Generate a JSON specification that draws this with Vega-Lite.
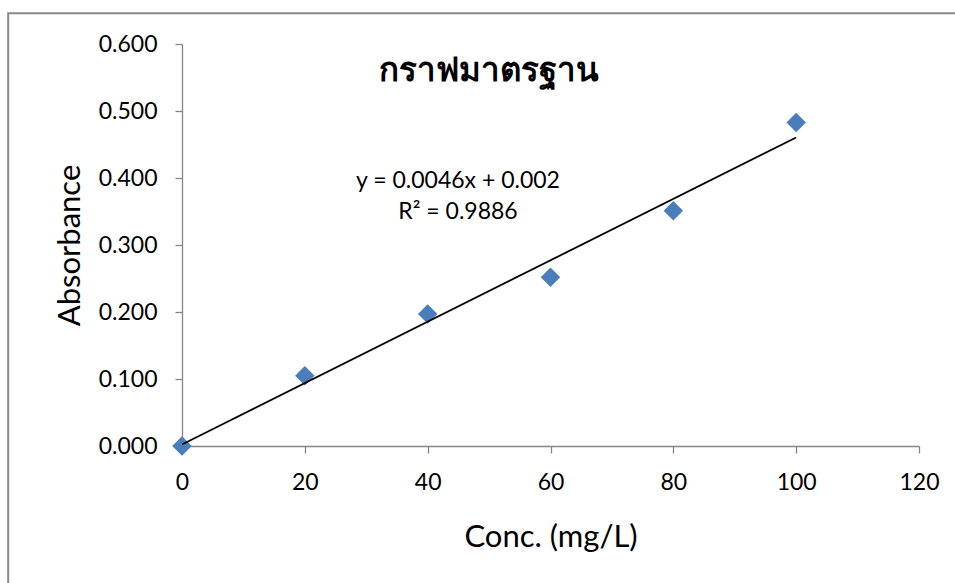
{
  "$schema": "https://vega.github.io/schema/vega-lite/v6.json",
  "width": 737,
  "height": 402,
  "autosize": {"type": "none"},
  "padding": {"left": 182, "top": 44, "right": 36, "bottom": 137},
  "background": "white",
  "title": {
    "text": "กราฟมาตรฐาน",
    "font": "Noto Sans",
    "fontSize": 33,
    "fontWeight": "bold",
    "color": "black",
    "anchor": "middle",
    "frame": "group",
    "baseline": "alphabetic",
    "offset": 0,
    "dx": -62,
    "dy": 102
  },
  "config": {
    "view": {"stroke": null},
    "font": "Lato",
    "axis": {
      "grid": false,
      "domainColor": "#868686",
      "domainWidth": 1.3,
      "tickColor": "#868686",
      "tickWidth": 1.3,
      "tickSize": 7,
      "labelColor": "black",
      "labelFont": "Lato",
      "labelFontSize": 23,
      "labelPadding": 18,
      "titleFont": "Lato",
      "titleFontSize": 31,
      "titleFontWeight": "normal",
      "titleColor": "black"
    }
  },
  "datasets": {
    "standard": [
      {"conc": 0, "absorbance": 0.0},
      {"conc": 20, "absorbance": 0.105},
      {"conc": 40, "absorbance": 0.197},
      {"conc": 60, "absorbance": 0.252},
      {"conc": 80, "absorbance": 0.351},
      {"conc": 100, "absorbance": 0.483}
    ],
    "equation": [
      {"eq": "y = 0.0046x + 0.002", "r2": "R² = 0.9886"}
    ]
  },
  "layer": [
    {
      "data": {"name": "standard"},
      "mark": {"type": "point", "shape": "diamond", "filled": true, "color": "#4A7EBB", "size": 380, "opacity": 1},
      "encoding": {
        "x": {
          "field": "conc",
          "type": "quantitative",
          "scale": {"domain": [0, 120], "nice": false, "zero": false},
          "axis": {
            "title": "Conc. (mg/L)",
            "values": [0, 20, 40, 60, 80, 100, 120],
            "labelFlush": false,
            "titleBaseline": "alphabetic",
            "titleY": 100
          }
        },
        "y": {
          "field": "absorbance",
          "type": "quantitative",
          "scale": {"domain": [0, 0.6], "nice": false, "zero": false},
          "axis": {
            "title": "Absorbance",
            "values": [0, 0.1, 0.2, 0.3, 0.4, 0.5, 0.6],
            "format": ".3f",
            "labelFlush": false,
            "titleBaseline": "alphabetic",
            "titleX": -103,
            "titleY": 201
          }
        }
      }
    },
    {
      "data": {"name": "standard"},
      "mark": {"type": "line", "color": "black", "strokeWidth": 1.8},
      "transform": [{"regression": "absorbance", "on": "conc"}],
      "encoding": {
        "x": {"field": "conc", "type": "quantitative"},
        "y": {"field": "absorbance", "type": "quantitative"}
      }
    },
    {
      "data": {"name": "equation"},
      "mark": {"type": "text", "fontSize": 23, "align": "center", "baseline": "alphabetic", "color": "black"},
      "encoding": {
        "x": {"datum": 44.94, "type": "quantitative"},
        "y": {"datum": 0.385, "type": "quantitative"},
        "text": {"field": "eq", "type": "nominal"}
      }
    },
    {
      "data": {"name": "equation"},
      "mark": {"type": "text", "fontSize": 23, "align": "center", "baseline": "alphabetic", "color": "black", "dy": 31},
      "encoding": {
        "x": {"datum": 44.94, "type": "quantitative"},
        "y": {"datum": 0.385, "type": "quantitative"},
        "text": {"field": "r2", "type": "nominal"}
      }
    },
    {
      "data": {"name": "equation"},
      "mark": {"type": "rect", "filled": false, "stroke": "#8a8a8a", "strokeWidth": 2, "clip": false},
      "encoding": {
        "x": {"datum": -28.3, "type": "quantitative"},
        "x2": {"datum": 140},
        "y": {"datum": 0.646, "type": "quantitative"},
        "y2": {"datum": -0.5}
      }
    }
  ]
}
